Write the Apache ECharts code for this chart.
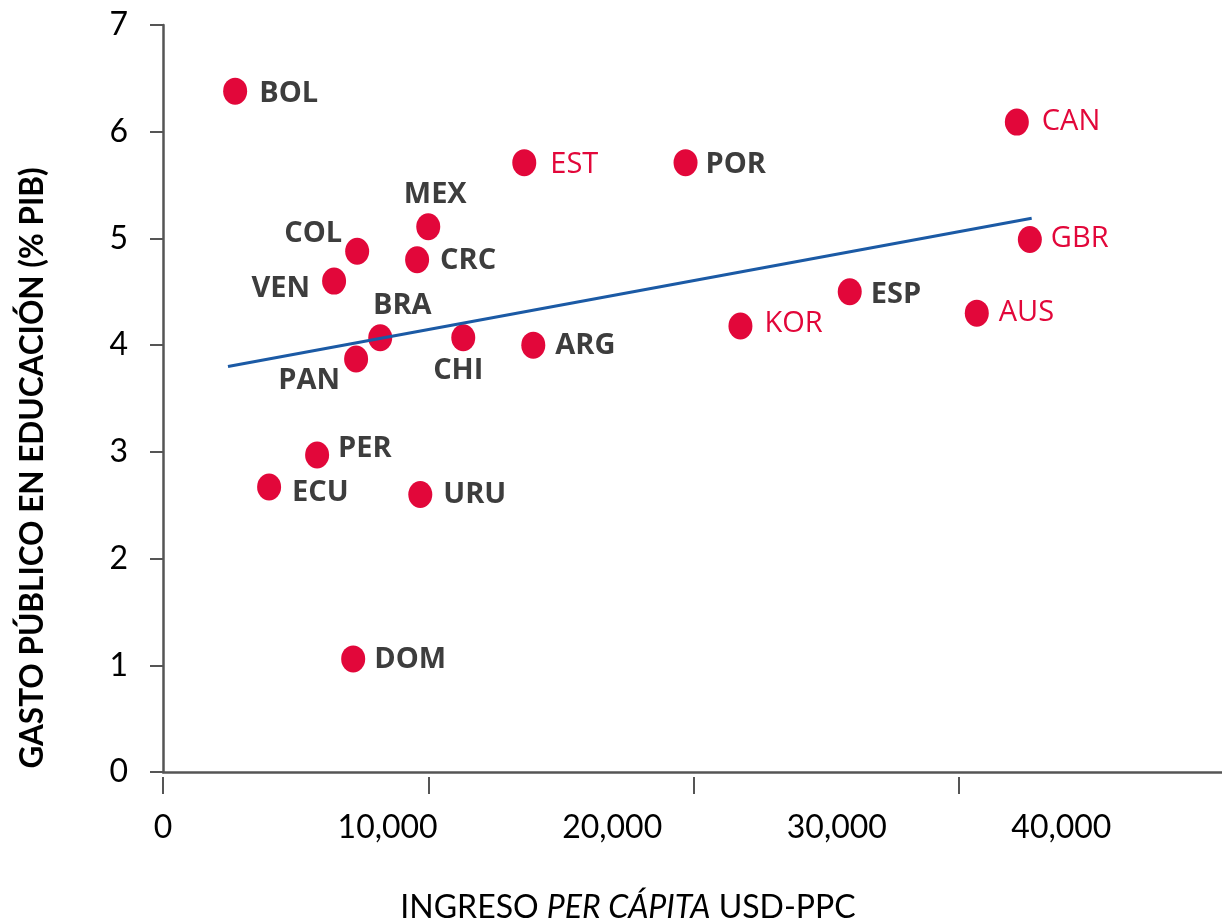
<!DOCTYPE html>
<html>
<head>
<meta charset="utf-8">
<script src="https://cdn.jsdelivr.net/npm/echarts@6/dist/echarts.min.js"></script>
<style>
  html, body { margin: 0; padding: 0; background: #fff; }
  #main { width: 1222px; height: 924px; }
</style>
</head>
<body>
<div id="main"></div>
<script>
// data
var countries = ['BOL', 'COL', 'VEN', 'MEX', 'CRC', 'BRA', 'PAN', 'CHI', 'ARG', 'EST',
                 'POR', 'KOR', 'ESP', 'AUS', 'CAN', 'GBR', 'PER', 'ECU', 'URU', 'DOM'];
var income = [2720, 7320, 6450, 10000, 9580, 8190, 7280, 11320, 13960, 13620,
              19700, 21770, 25890, 30680, 32190, 32680, 5810, 4000, 9700, 7170];
var spending = [6.38, 4.88, 4.60, 5.11, 4.80, 4.07, 3.87, 4.07, 4.00, 5.71,
                5.71, 4.18, 4.50, 4.30, 6.09, 4.99, 2.97, 2.67, 2.60, 1.06];
var oecd = ['EST', 'KOR', 'AUS', 'CAN', 'GBR'];
var trendX = [2450, 32750];
var trendY = [3.80, 5.19];
var xTickStep = 10000;
var yTickStep = 1;

// where each label sits next to its dot: [align, dx, dy]
var labelPlace = {
    BOL: ['left', 24, 3], COL: ['right', -15, -17], VEN: ['right', -24, 8],
    MEX: ['center', 7, -32], CRC: ['left', 23, 1], BRA: ['center', 22, -32],
    PAN: ['center', -47, 22], CHI: ['center', -5, 33], ARG: ['left', 22, 1],
    EST: ['left', 26, 2], POR: ['left', 20, 2], KOR: ['left', 24, -2],
    ESP: ['left', 21, 3], AUS: ['left', 22, 0], CAN: ['left', 25, 0],
    GBR: ['left', 21, -1], PER: ['left', 21, -6], ECU: ['left', 23, 6],
    URU: ['left', 23, 0], DOM: ['left', 21, 1]
};

var red = '#e2073a';
var dark = '#3d3d3d';
var axisColor = '#555';

var points = countries.map(function (c, i) {
    var p = labelPlace[c];
    var isOecd = oecd.indexOf(c) >= 0;
    return {
        name: c,
        value: [income[i], spending[i]],
        label: {
            align: p[0],
            offset: [p[1], p[2]],
            color: isOecd ? red : dark,
            fontWeight: isOecd ? 'normal' : 'bold'
        }
    };
});

var myChart = echarts.init(document.getElementById('main'));
var option = {
    animation: false,
    grid: { left: 163, top: 25, width: 1061, height: 747, outerBoundsMode: 'none' },
    xAxis: [
        {
            type: 'value', min: 0, max: 40000, position: 'bottom',
            axisLine: { show: true, lineStyle: { color: axisColor, width: 2.5 } },
            axisTick: { show: false }, axisLabel: { show: false }, splitLine: { show: false }
        },
        {
            type: 'value', min: 0, max: 40000, interval: xTickStep, position: 'bottom', offset: 5,
            axisLine: { show: false },
            axisTick: { show: true, length: 17, lineStyle: { color: axisColor, width: 2 } },
            axisLabel: { show: false }, splitLine: { show: false }
        },
        {
            type: 'value', min: 0, max: 47240, interval: xTickStep, position: 'bottom',
            axisLine: { show: false }, axisTick: { show: false }, splitLine: { show: false },
            axisLabel: {
                margin: 40, fontSize: 32, fontFamily: 'Lato', color: '#000',
                formatter: function (v) {
                    return v % xTickStep === 0 ? v.toLocaleString('en-US') : '';
                }
            }
        }
    ],
    yAxis: {
        type: 'value', min: 0, max: 7, interval: yTickStep,
        axisLine: { show: true, lineStyle: { color: axisColor, width: 2.5 } },
        axisTick: { show: true, length: 13, lineStyle: { color: axisColor, width: 2 } },
        axisLabel: { margin: 35, fontSize: 32, fontFamily: 'Lato', color: '#000' },
        splitLine: { show: false }
    },
    graphic: [
        {
            type: 'text', x: 33, y: 468, rotation: Math.PI / 2,
            style: {
                text: 'GASTO PÚBLICO EN EDUCACIÓN (% PIB)',
                fontSize: 31.5, fontWeight: 'bold', fontFamily: 'Lato', fill: '#000',
                align: 'center', verticalAlign: 'middle',
                textAlign: 'center', textVerticalAlign: 'middle'
            }
        },
        {
            type: 'text', x: 628, y: 908,
            style: {
                text: 'INGRESO {i|PER CÁPITA} USD-PPC',
                fontSize: 32, fontFamily: 'Lato', fill: '#000',
                rich: { i: { fontStyle: 'italic', fontSize: 32, fontFamily: 'Lato', fill: '#000' } },
                align: 'center', verticalAlign: 'middle',
                textAlign: 'center', textVerticalAlign: 'middle'
            }
        }
    ],
    series: [
        {
            type: 'scatter',
            xAxisIndex: 0,
            symbol: 'circle',
            symbolSize: [24, 27],
            itemStyle: { color: red, opacity: 1 },
            label: {
                show: true,
                position: 'inside',
                verticalAlign: 'middle',
                fontSize: 29,
                fontFamily: 'Open Sans',
                formatter: '{b}'
            },
            data: points
        },
        {
            type: 'line',
            xAxisIndex: 0,
            symbol: 'none',
            z: 3,
            lineStyle: { color: '#1b5aa5', width: 3 },
            data: trendX.map(function (x, i) { return [x, trendY[i]]; })
        }
    ]
};
myChart.setOption(option);
</script>
</body>
</html>
